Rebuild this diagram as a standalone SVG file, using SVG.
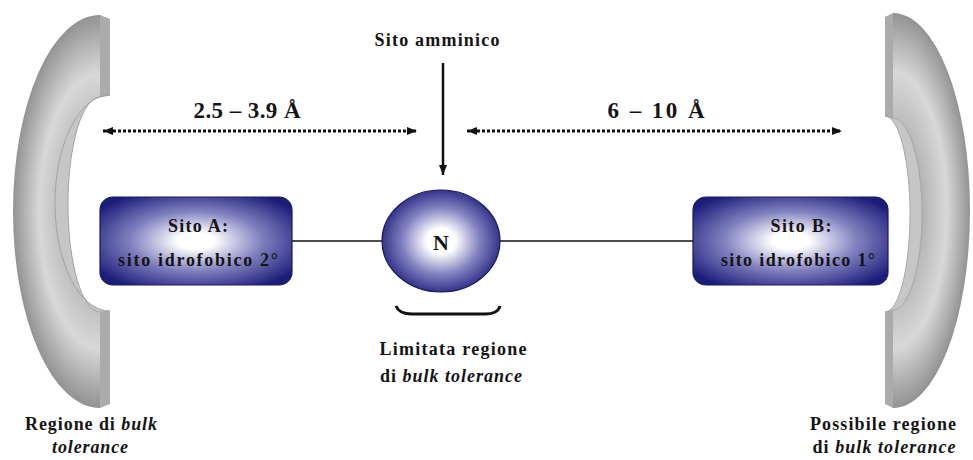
<svg xmlns="http://www.w3.org/2000/svg" width="973" height="460" viewBox="0 0 973 460">
<defs>
<style>
text{font-family:"Liberation Serif","Times New Roman",serif;font-weight:bold;fill:#141414;text-anchor:middle}
.it{font-style:italic}
.dot{stroke:#111;stroke-width:3;stroke-dasharray:3 2;fill:none}
.conn{stroke:#111;stroke-width:1.5;fill:none}
.body{stroke:none}
.strip{fill:#ababab}
.band{fill:#c6c6c6;stroke:#9a9a9a;stroke-width:0.8}
.site{stroke:#1a1a60;stroke-width:1.2}
</style>
<radialGradient id="gL" gradientUnits="userSpaceOnUse" cx="0" cy="0" r="1" gradientTransform="translate(100,211) scale(87,196)">
<stop offset="0.35" stop-color="#b0b0b0"/>
<stop offset="0.7" stop-color="#d8d8d8"/>
<stop offset="1" stop-color="#939393"/>
</radialGradient>
<radialGradient id="gR" gradientUnits="userSpaceOnUse" cx="0" cy="0" r="1" gradientTransform="translate(893,210) scale(77,197)">
<stop offset="0.35" stop-color="#b0b0b0"/>
<stop offset="0.7" stop-color="#d8d8d8"/>
<stop offset="1" stop-color="#939393"/>
</radialGradient>
<radialGradient id="gSite" cx="0.5" cy="0.5" r="0.62">
<stop offset="0" stop-color="#ffffff"/>
<stop offset="0.15" stop-color="#ffffff"/>
<stop offset="0.55" stop-color="#8080bf"/>
<stop offset="1" stop-color="#1c1c7a"/>
</radialGradient>
<radialGradient id="gN" cx="0.5" cy="0.5" r="0.55">
<stop offset="0" stop-color="#ffffff"/>
<stop offset="0.22" stop-color="#ffffff"/>
<stop offset="0.6" stop-color="#8080bf"/>
<stop offset="1" stop-color="#1e1e7c"/>
</radialGradient>
<marker id="ah" viewBox="0 0 10 8" refX="10" refY="4" markerWidth="10" markerHeight="8" markerUnits="userSpaceOnUse" orient="auto-start-reverse">
<path d="M0,0 L10,4 L0,8 Z" fill="#111"/>
</marker>
</defs>

<g id="bulk-left">
<path class="body" fill="url(#gL)" d="M100,15 A87 196.5 0 0 0 100,408 L100,312 A32 107.5 0 0 1 100,97 Z"/>
<path class="strip" d="M100,15 L110,19 L110,95 L100,97 Z"/>
<path class="band" d="M110,95 A55 108 0 0 0 110,311 L100,312 A32 107.5 0 0 1 100,97 Z"/>
<path class="strip" d="M100,312 L110,311 L110,404 L100,408 Z"/>
</g>

<g id="bulk-right">
<path class="body" fill="url(#gR)" d="M893,13 A77 197.5 0 0 1 893,408 L893,310 A29 96 0 0 0 893,118 Z"/>
<path class="strip" d="M885,17 L893,13 L893,118 L885,116 Z"/>
<path class="band" d="M885,116 A25 98 0 0 1 885,312 L893,310 A29 96 0 0 0 893,118 Z"/>
<path class="strip" d="M885,312 L893,310 L893,408 L885,404 Z"/>
</g>

<g id="connectors">
<line class="dot" x1="103" y1="131" x2="417" y2="131" marker-start="url(#ah)" marker-end="url(#ah)"/>
<line class="dot" x1="467" y1="131" x2="842" y2="131" marker-start="url(#ah)" marker-end="url(#ah)"/>
<line x1="443" y1="63" x2="443" y2="175" stroke="#111" stroke-width="2.5" marker-end="url(#ah)"/>
<line class="conn" x1="292" y1="241" x2="382" y2="241"/>
<line class="conn" x1="500" y1="241" x2="693" y2="241"/>
<path d="M396,306 Q399,314 412,314 L485,314 Q498,314 500,306" fill="none" stroke="#111" stroke-width="3"/>
</g>

<g id="siteA">
<rect class="site" x="100" y="197" width="192" height="88" rx="13" fill="url(#gSite)"/>
<text x="198" y="232" font-size="18" textLength="60" lengthAdjust="spacing">Sito A:</text>
<text x="198" y="266" font-size="18" textLength="160" lengthAdjust="spacing">sito idrofobico 2°</text>
</g>

<g id="siteN">
<ellipse class="site" cx="441" cy="241" rx="59" ry="51" fill="url(#gN)"/>
<text x="441" y="250" font-size="22">N</text>
</g>

<g id="siteB">
<rect class="site" x="693" y="197" width="195" height="88" rx="13" fill="url(#gSite)"/>
<text x="801" y="232" font-size="18" textLength="61" lengthAdjust="spacing">Sito B:</text>
<text x="798" y="266" font-size="18" textLength="154" lengthAdjust="spacing">sito idrofobico 1°</text>
</g>

<g id="labels">
<text x="437" y="46" font-size="18" textLength="125" lengthAdjust="spacing">Sito amminico</text>
<text x="247" y="118" font-size="23" textLength="107" lengthAdjust="spacing">2.5 – 3.9 Å</text>
<text x="656" y="118" font-size="23" textLength="97" lengthAdjust="spacing">6 – 10 Å</text>
<text x="453" y="355" font-size="18" textLength="147" lengthAdjust="spacing">Limitata regione</text>
<text x="451" y="382" font-size="18" textLength="142" lengthAdjust="spacing">di <tspan class="it">bulk tolerance</tspan></text>
<text x="91" y="430" font-size="18" textLength="132" lengthAdjust="spacing">Regione di <tspan class="it">bulk</tspan></text>
<text x="90" y="453" font-size="18" class="it" textLength="76" lengthAdjust="spacing">tolerance</text>
<text x="883" y="430" font-size="18" textLength="146" lengthAdjust="spacing">Possibile regione</text>
<text x="884" y="453" font-size="18" textLength="143" lengthAdjust="spacing">di <tspan class="it">bulk tolerance</tspan></text>
</g>
</svg>
